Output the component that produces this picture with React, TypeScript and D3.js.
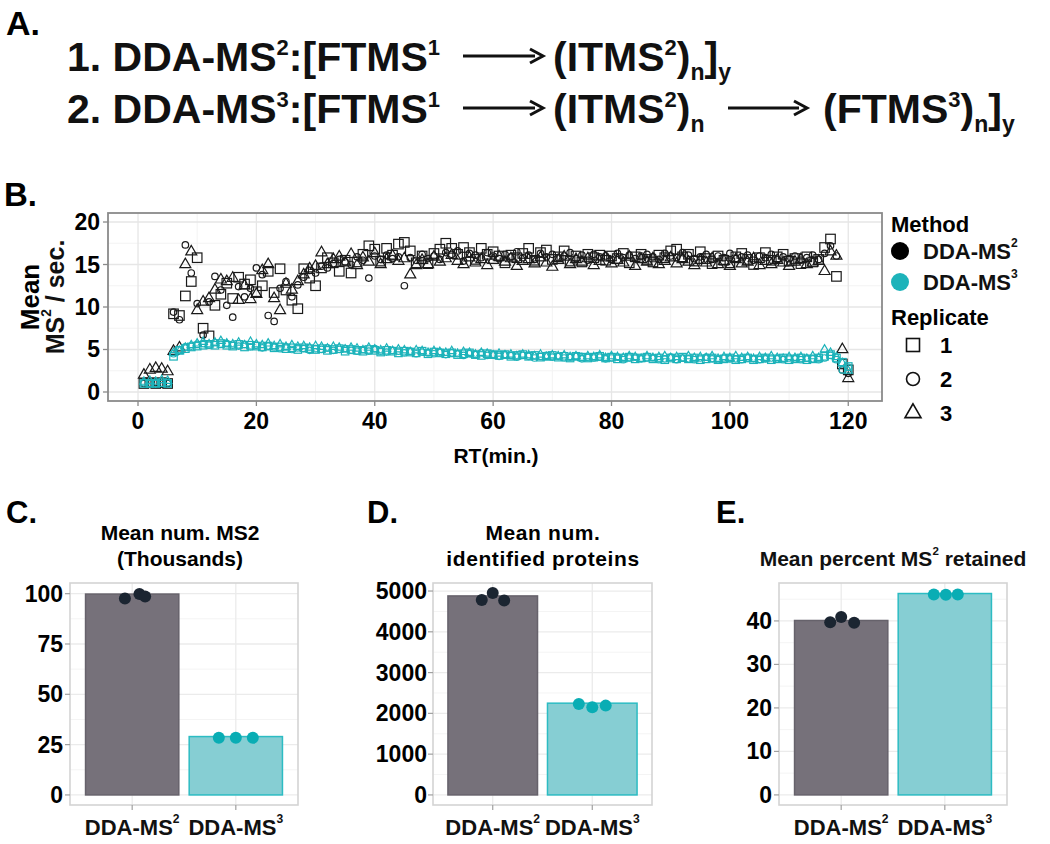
import React from 'react';
import * as d3 from 'd3';

// ---------- DATA ----------
const rtMinutes = d3.range(1, 121);

const ms2Rep1 = [1.0,1.1,1.0,1.1,1.0, 9.2,9.0,11.3,13.0,15.8, 7.5,6.6,10.2,11.5,12.8, 11.0,13.5,12.7,13.2,11.8, 12.5,14.2,11.7,14.5,12.0, 10.8,9.8,14.5,13.4,12.5, 14.6,15.8,15.2,14.2,15.5, 14.0,15.3,16.2,17.2,16.8, 15.4,16.9,16.1,17.4,17.6, 16.6,15.2,16.0,15.1,16.3, 16.8,17.5,16.9,16.2,17.0, 16.4,15.6,16.9,16.2,16.5, 16.0,15.2,16.1,15.8,16.3, 16.9,15.5,16.4,16.7,15.6, 15.9,16.6,15.4,16.0,15.3, 16.2,15.8,16.1,15.5,16.0, 15.7,16.3,15.2,15.9,16.2, 15.6,15.3,16.1,15.8,16.6, 16.8,15.9,16.2,15.4,16.5, 15.7,15.1,16.0,15.5,15.2, 15.9,16.3,15.6,15.0,15.8, 16.4,15.5,15.9,16.2,15.4, 15.7,15.1,15.9,15.3,15.6, 17.0,18.0,13.6,3.3,2.6];
const ms2Rep2 = [1.0,1.0,1.1,1.0,1.0, 9.4,8.5,17.3,14.0,10.4, 6.7,10.6,13.6,12.0,10.2, 8.8,12.4,11.2,12.2,14.6, 13.8,9.0,8.3,12.2,13.0, 11.2,12.6,13.5,14.3,14.0, 14.8,14.6,15.1,15.6,15.3, 15.0,15.9,15.5,13.4,16.0, 15.6,16.1,15.7,15.9,12.5, 15.8,15.5,16.2,15.7,16.0, 15.6,16.4,16.2,16.6,15.4, 16.3,16.1,15.8,16.4,16.0, 15.7,16.2,15.9,16.5,15.8, 16.1,15.6,16.3,15.9,16.2, 15.8,16.0,16.4,15.7,16.1, 15.5,16.2,15.9,16.0,15.6, 16.3,15.8,16.1,15.7,16.0, 16.2,15.9,15.6,16.3,16.0, 15.8,16.4,16.1,15.7,15.9, 16.2,15.6,16.0,15.8,16.3, 15.7,15.9,16.1,15.5,16.0, 15.8,16.2,15.6,15.9,15.7, 16.0,15.5,15.8,16.1,15.6, 16.3,17.2,16.0,2.6,2.2];
const ms2Rep3 = [2.0,2.6,2.8,2.7,2.4, 4.8,5.2,15.0,16.5,9.6, 10.6,11.0,12.0,13.2,13.0, 13.4,10.8,12.5,10.9,11.5, 14.3,15.0,11.0,9.6,12.7, 12.0,13.0,13.8,14.5,14.8, 16.4,15.0,15.6,15.9,15.2, 16.2,14.9,15.8,15.3,16.3, 15.0,15.6,16.0,15.4,15.7, 13.8,14.9,15.5,15.0,15.9, 15.3,15.7,16.1,15.4,15.0, 15.8,15.2,15.6,14.9,15.5, 15.9,15.3,15.7,14.8,15.4, 15.6,15.1,15.8,15.2,14.7, 15.5,15.9,15.0,15.6,15.3, 15.7,14.9,15.4,15.8,15.1, 15.5,15.2,15.9,14.8,15.6, 15.3,15.7,15.0,15.4,15.8, 15.1,15.6,15.3,14.9,15.5, 15.2,15.7,15.0,15.4,14.8, 15.6,15.1,15.3,15.7,14.9, 15.4,15.0,15.5,15.2,14.8, 15.3,15.6,15.0,15.2,15.4, 14.2,16.5,16.0,5.0,1.6];
const ms3Rep1 = [1.0,1.0,1.0,1.1,1.0, 4.2,4.9,5.1,5.3,5.4, 5.5,5.6,5.5,5.7,5.5, 5.4,5.6,5.3,5.5,5.4, 5.3,5.4,5.2,5.3,5.1, 5.2,5.0,5.2,5.1,5.0, 5.1,4.9,5.0,5.1,4.8, 5.0,4.9,4.8,5.0,4.9, 4.7,4.9,4.8,4.6,4.8, 4.7,4.6,4.8,4.5,4.7, 4.6,4.5,4.6,4.4,4.5, 4.6,4.4,4.3,4.5,4.4, 4.3,4.4,4.2,4.3,4.4, 4.2,4.3,4.1,4.2,4.3, 4.1,4.2,4.0,4.2,4.1, 4.0,4.1,4.2,4.0,4.1, 3.9,4.0,4.1,3.9,4.0, 4.1,3.9,4.0,3.8,4.0, 3.9,4.1,3.9,4.0,3.8, 3.9,4.0,3.8,3.9,4.0, 3.8,3.9,4.0,3.8,3.9, 4.0,3.8,3.9,4.0,3.8, 3.9,4.0,3.8,3.9,4.0, 4.2,4.4,4.0,3.5,3.0];
const ms3Rep2 = [1.1,1.0,1.0,1.0,1.1, 4.5,5.0,5.3,5.4,5.6, 5.7,5.5,5.8,5.6,5.7, 5.5,5.4,5.6,5.3,5.5, 5.2,5.4,5.3,5.1,5.3, 5.0,5.2,5.1,4.9,5.1, 5.0,5.2,4.9,5.0,5.1, 4.9,4.8,5.0,4.8,5.1, 4.8,4.7,4.9,4.8,4.6, 4.8,4.5,4.7,4.6,4.5, 4.7,4.4,4.6,4.5,4.3, 4.5,4.4,4.6,4.3,4.4, 4.2,4.4,4.3,4.1,4.3, 4.2,4.0,4.2,4.3,4.1, 4.2,4.0,4.1,4.2,3.9, 4.1,4.0,4.1,3.9,4.0, 4.1,3.8,4.0,4.1,3.9, 4.0,4.0,3.8,3.9,4.1, 3.8,4.0,3.9,3.8,4.0, 4.1,3.9,3.8,4.0,3.9, 3.9,3.8,4.0,3.9,3.8, 3.9,4.0,3.9,3.8,4.0, 3.9,3.8,4.0,3.9,3.8, 4.0,4.3,3.8,2.6,2.9];
const ms3Rep3 = [1.2,1.3,1.2,1.4,1.3, 4.6,4.8,5.2,5.5,5.7, 5.9,5.6,5.8,6.0,5.7, 5.6,5.8,5.5,5.9,5.6, 5.5,5.7,5.4,5.6,5.3, 5.5,5.3,5.4,5.2,5.4, 5.3,5.1,5.3,5.2,5.0, 5.2,5.1,4.9,5.2,5.0, 4.9,5.1,4.8,5.0,4.9, 4.7,4.9,4.8,4.6,4.8, 4.7,4.6,4.8,4.5,4.7, 4.6,4.4,4.6,4.5,4.3, 4.5,4.3,4.4,4.2,4.4, 4.3,4.2,4.4,4.1,4.3, 4.2,4.3,4.1,4.2,4.0, 4.2,4.1,4.3,4.0,4.2, 4.1,4.0,4.2,4.1,3.9, 4.2,4.0,4.1,4.2,4.0, 4.1,3.9,4.2,4.0,4.1, 4.0,4.2,3.9,4.1,4.0, 4.2,4.0,4.1,3.9,4.1, 4.0,4.2,4.0,3.9,4.1, 4.0,4.1,3.9,4.2,4.0, 5.0,4.6,4.1,3.4,2.5];

const methodNames = ['DDA-MS', 'DDA-MS'];
const methodSups = ['2', '3'];
const replicateLabels = ['1', '2', '3'];
const replicateShapes = ['square', 'circle', 'triangle'];

const bTicksX = [0, 20, 40, 60, 80, 100, 120];
const bTicksY = [0, 5, 10, 15, 20];

// Panel C: Mean num. MS2 (thousands)
const barC = [99.8, 29.0];
const ptsC = [[97.6, 99.8, 98.6], [28.4, 28.4, 28.4]];
const jitC = [[-0.07, 0.07, 0.125], [-0.164, 0, 0.164]];
const ticksC = [0, 25, 50, 75, 100];
// Panel D: identified proteins
const barD = [4880, 2250];
const ptsD = [[4780, 4950, 4770], [2230, 2150, 2190]];
const jitD = [[-0.11, 0, 0.115], [-0.135, 0, 0.135]];
const ticksD = [0, 1000, 2000, 3000, 4000, 5000];
// Panel E: percent retained
const barE = [40.1, 46.3];
const ptsE = [[39.7, 40.9, 39.6], [46.1, 46.0, 46.1]];
const jitE = [[-0.106, 0, 0.125], [-0.106, 0.01, 0.125]];
const ticksE = [0, 10, 20, 30, 40];

// ---------- STYLE ----------
const FF = "'Liberation Sans', Arial, Helvetica, sans-serif";
const TEAL = '#1db3ba';
const DARK = '#1b2531';
const BLACK = '#111';

function Marker({ shape, x, y, s, color, sw = 1 }: any) {
  if (shape === 'square') return <rect x={x - s / 2} y={y - s / 2} width={s} height={s} fill="none" stroke={color} strokeWidth={sw} />;
  if (shape === 'circle') return <circle cx={x} cy={y} r={s / 2} fill="none" stroke={color} strokeWidth={sw} />;
  const h = s * 0.866;
  return <path d={`M${x},${y - (2 * h) / 3}L${x - s / 2},${y + h / 3}L${x + s / 2},${y + h / 3}Z`} fill="none" stroke={color} strokeWidth={sw} />;
}

function SupText({ x, y, base, sup, size, anchor = 'start', after = '', supScale = 0.6, ...rest }: any) {
  return (
    <text x={x} y={y} fontSize={size} fontFamily={FF} fontWeight="bold" textAnchor={anchor} dominantBaseline="central" fill={BLACK} {...rest}>
      {base}
      <tspan fontSize={size * supScale} dy={-size * 0.35}>{sup}</tspan>
      <tspan dy={size * 0.35}>{after}</tspan>
    </text>
  );
}

function Arrow({ x1, x2, y }: any) {
  return (
    <g>
      <line x1={x1} x2={x2 - 8} y1={y} y2={y} stroke={BLACK} strokeWidth={3} />
      <path d={`M${x2 - 13},${y - 7}L${x2},${y}L${x2 - 13},${y + 7}`} fill="none" stroke={BLACK} strokeWidth={3} />
    </g>
  );
}

function PanelA() {
  const fs = 41;
  const sup = (t: string) => <tspan fontSize={22} dy={-16}>{t}</tspan>;
  const down = (t: string) => <tspan dy={16}>{t}</tspan>;
  const sub = (t: string) => <tspan fontSize={23} dy={9}>{t}</tspan>;
  const up = (t: string) => <tspan dy={-9}>{t}</tspan>;
  const common = { fontSize: fs, fontFamily: FF, fontWeight: 'bold', fill: BLACK } as any;
  const y1 = 71, y2 = 123;
  return (
    <g>
      <text x={6} y={35} fontSize={34} fontFamily={FF} fontWeight="bold">A.</text>
      <text x={67} y={y1} {...common}>1. DDA-MS{sup('2')}{down(':[FTMS')}{sup('1')}</text>
      <Arrow x1={463} x2={543} y={y1 - 15} />
      <text x={553} y={y1} {...common}>(ITMS{sup('2')}{down(')')}{sub('n')}{up(']')}{sub('y')}</text>
      <text x={67} y={y2} {...common}>2. DDA-MS{sup('3')}{down(':[FTMS')}{sup('1')}</text>
      <Arrow x1={463} x2={543} y={y2 - 15} />
      <text x={553} y={y2} {...common}>(ITMS{sup('2')}{down(')')}{sub('n')}</text>
      <Arrow x1={728} x2={807} y={y2 - 15} />
      <text x={823} y={y2} {...common}>(FTMS{sup('3')}{down(')')}{sub('n')}{up(']')}{sub('y')}</text>
    </g>
  );
}

function PanelB() {
  const x = d3.scaleLinear().domain([-5.07, 125.7]).range([108, 882]);
  const y = d3.scaleLinear().domain([-1.06, 21.06]).range([401, 213]);
  const ms2 = [ms2Rep1, ms2Rep2, ms2Rep3];
  const ms3 = [ms3Rep1, ms3Rep2, ms3Rep3];
  const minorX = [10, 30, 50, 70, 90, 110];
  const minorY = [2.5, 7.5, 12.5, 17.5];
  const blackSize = [9.5, 6.5, 11];
  const tealSize = [7.5, 6.5, 8.5];
  return (
    <g>
      <text x={4} y={206} fontSize={33} fontFamily={FF} fontWeight="bold">B.</text>
      <rect x={108} y={213} width={774} height={188} fill="#fff" />
      {minorX.map((v) => <line key={'mx' + v} x1={x(v)} x2={x(v)} y1={213} y2={401} stroke="#f3f3f3" strokeWidth={1} />)}
      {minorY.map((v) => <line key={'my' + v} y1={y(v)} y2={y(v)} x1={108} x2={882} stroke="#f3f3f3" strokeWidth={1} />)}
      {bTicksX.map((v) => <line key={'gx' + v} x1={x(v)} x2={x(v)} y1={213} y2={401} stroke="#e6e6e6" strokeWidth={1.3} />)}
      {bTicksY.map((v) => <line key={'gy' + v} y1={y(v)} y2={y(v)} x1={108} x2={882} stroke="#e6e6e6" strokeWidth={1.3} />)}
      {ms2.map((rep, r) =>
        rep.map((v, i) => <Marker key={`b${r}-${i}`} shape={replicateShapes[r]} x={x(rtMinutes[i])} y={y(v)} s={blackSize[r]} color="#1a1a1a" sw={1.2} />)
      )}
      {ms3.map((rep, r) =>
        rep.map((v, i) => <Marker key={`t${r}-${i}`} shape={replicateShapes[r]} x={x(rtMinutes[i])} y={y(v)} s={tealSize[r]} color={TEAL} sw={1.2} />)
      )}
      <rect x={108} y={213} width={774} height={188} fill="none" stroke="#8a8a8a" strokeWidth={1.8} />
      {bTicksY.map((v) => (
        <g key={'ty' + v}>
          <line x1={103} x2={108} y1={y(v)} y2={y(v)} stroke="#8a8a8a" strokeWidth={1.3} />
          <text x={100} y={y(v)} textAnchor="end" dominantBaseline="central" fontSize={23} fontFamily={FF} fontWeight="bold">{v}</text>
        </g>
      ))}
      {bTicksX.map((v) => (
        <g key={'tx' + v}>
          <line x1={x(v)} x2={x(v)} y1={401} y2={406} stroke="#8a8a8a" strokeWidth={1.3} />
          <text x={x(v)} y={421} textAnchor="middle" dominantBaseline="central" fontSize={23} fontFamily={FF} fontWeight="bold">{v}</text>
        </g>
      ))}
      <text x={496} y={455} textAnchor="middle" dominantBaseline="central" fontSize={21} fontFamily={FF} fontWeight="bold">RT(min.)</text>
      <text transform="translate(30,297) rotate(-90)" textAnchor="middle" dominantBaseline="central" fontSize={26} fontFamily={FF} fontWeight="bold">Mean</text>
      <SupText transform="translate(55,297) rotate(-90)" x={0} y={0} anchor="middle" size={25} base="MS" sup="2" after=" / sec." supScale={0.55} />
      {/* legend */}
      <text x={891} y={224} dominantBaseline="central" fontSize={22} fontFamily={FF} fontWeight="bold">Method</text>
      {[0, 1].map((m) => (
        <g key={'lm' + m}>
          <circle cx={900} cy={251 + m * 31} r={9} fill={m === 0 ? '#000' : TEAL} />
          <SupText x={923} y={251 + m * 31} size={22} base={methodNames[m]} sup={methodSups[m]} supScale={0.55} />
        </g>
      ))}
      <text x={891} y={317} dominantBaseline="central" fontSize={22} fontFamily={FF} fontWeight="bold">Replicate</text>
      {replicateLabels.map((lab, r) => (
        <g key={'lr' + r}>
          <Marker shape={replicateShapes[r]} x={913} y={345 + r * 34} s={r === 2 ? 16 : 13} color="#111" sw={1.6} />
          <text x={940} y={345 + r * 34} dominantBaseline="central" fontSize={22} fontFamily={FF} fontWeight="bold">{lab}</text>
        </g>
      ))}
    </g>
  );
}

function BarPanel({ left, right, domain, ticks, minor, bars, pts, jit, title, letter, letterX, tickRight }: any) {
  const top = 583, bottom = 805;
  const xb = d3.scaleBand().domain(['0', '1']).range([left, right]).paddingInner(0.1).paddingOuter(0.15);
  const y = d3.scaleLinear().domain(domain).range([bottom, top]);
  const step = xb.step();
  const cx = (i: number) => (xb(String(i)) as number) + xb.bandwidth() / 2;
  return (
    <g>
      <text x={letterX} y={523} fontSize={31} fontFamily={FF} fontWeight="bold">{letter}</text>
      {title}
      {minor.map((v: number) => <line key={'mn' + v} x1={left} x2={right} y1={y(v)} y2={y(v)} stroke="#f4f4f4" strokeWidth={1} />)}
      {ticks.map((v: number) => <line key={'g' + v} x1={left} x2={right} y1={y(v)} y2={y(v)} stroke="#ebebeb" strokeWidth={1.3} />)}
      {[0, 1].map((i) => <line key={'gv' + i} x1={cx(i)} x2={cx(i)} y1={top} y2={bottom} stroke="#ebebeb" strokeWidth={1.3} />)}
      {bars.map((v: number, i: number) => (
        <rect key={'bar' + i} x={xb(String(i))} y={y(v)} width={xb.bandwidth()} height={y(0) - y(v)}
          fill={i === 0 ? '#76717a' : '#86ced3'} stroke={i === 0 ? '#66626b' : '#2cbcc3'} strokeWidth={1.5} />
      ))}
      {pts.map((arr: number[], i: number) => arr.map((v, k) => (
        <circle key={`p${i}-${k}`} cx={cx(i) + jit[i][k] * step} cy={y(v)} r={6} fill={i === 0 ? DARK : '#09adb4'} />
      )))}
      <rect x={left} y={top} width={right - left} height={bottom - top} fill="none" stroke="#d4d4d4" strokeWidth={1.6} />
      {ticks.map((v: number) => (
        <g key={'t' + v}>
          <line x1={left - 5} x2={left} y1={y(v)} y2={y(v)} stroke="#a0a0a0" strokeWidth={1.2} />
          <text x={tickRight} y={y(v)} textAnchor="end" dominantBaseline="central" fontSize={23} fontFamily={FF} fontWeight="bold">{v}</text>
        </g>
      ))}
      {[0, 1].map((i) => (
        <g key={'xl' + i}>
          <line x1={cx(i)} x2={cx(i)} y1={bottom} y2={bottom + 5} stroke="#a0a0a0" strokeWidth={1.2} />
          <SupText x={cx(i)} y={827} anchor="middle" size={22} base={methodNames[i]} sup={methodSups[i]} supScale={0.55} />
        </g>
      ))}
    </g>
  );
}

export default function App() {
  React.useEffect(() => {
    document.body.style.margin = '0';
  }, []);
  const tStyle = { fontSize: 21, fontFamily: FF, fontWeight: 'bold', textAnchor: 'middle', dominantBaseline: 'central' } as any;
  return (
    <svg width={1050} height={844} style={{ position: 'absolute', left: 0, top: 0, background: '#fff' }}>
      <rect width={1050} height={844} fill="#fff" />
      <PanelA />
      <PanelB />
      <BarPanel left={70} right={298} domain={[-5.0, 105.3]} ticks={ticksC} minor={[12.5, 37.5, 62.5, 87.5]}
        bars={barC} pts={ptsC} jit={jitC} letter="C." letterX={6} tickRight={63}
        title={<g><text x={180} y={532} {...tStyle}>Mean num. MS2</text><text x={180} y={558} {...tStyle}>(Thousands)</text></g>} />
      <BarPanel left={433} right={652} domain={[-247, 5197]} ticks={ticksD} minor={[500, 1500, 2500, 3500, 4500]}
        bars={barD} pts={ptsD} jit={jitD} letter="D." letterX={367} tickRight={427}
        title={<g><text x={543} y={532} {...tStyle} letterSpacing={0.6}>Mean num.</text><text x={543} y={558} {...tStyle} letterSpacing={0.6}>identified proteins</text></g>} />
      <BarPanel left={779} right={1007} domain={[-2.32, 48.72]} ticks={ticksE} minor={[5, 15, 25, 35, 45]}
        bars={barE} pts={ptsE} jit={jitE} letter="E." letterX={716} tickRight={772}
        title={<SupText x={893} y={558} anchor="middle" size={21} base="Mean percent MS" sup="2" after=" retained" supScale={0.55} />} />
    </svg>
  );
}
